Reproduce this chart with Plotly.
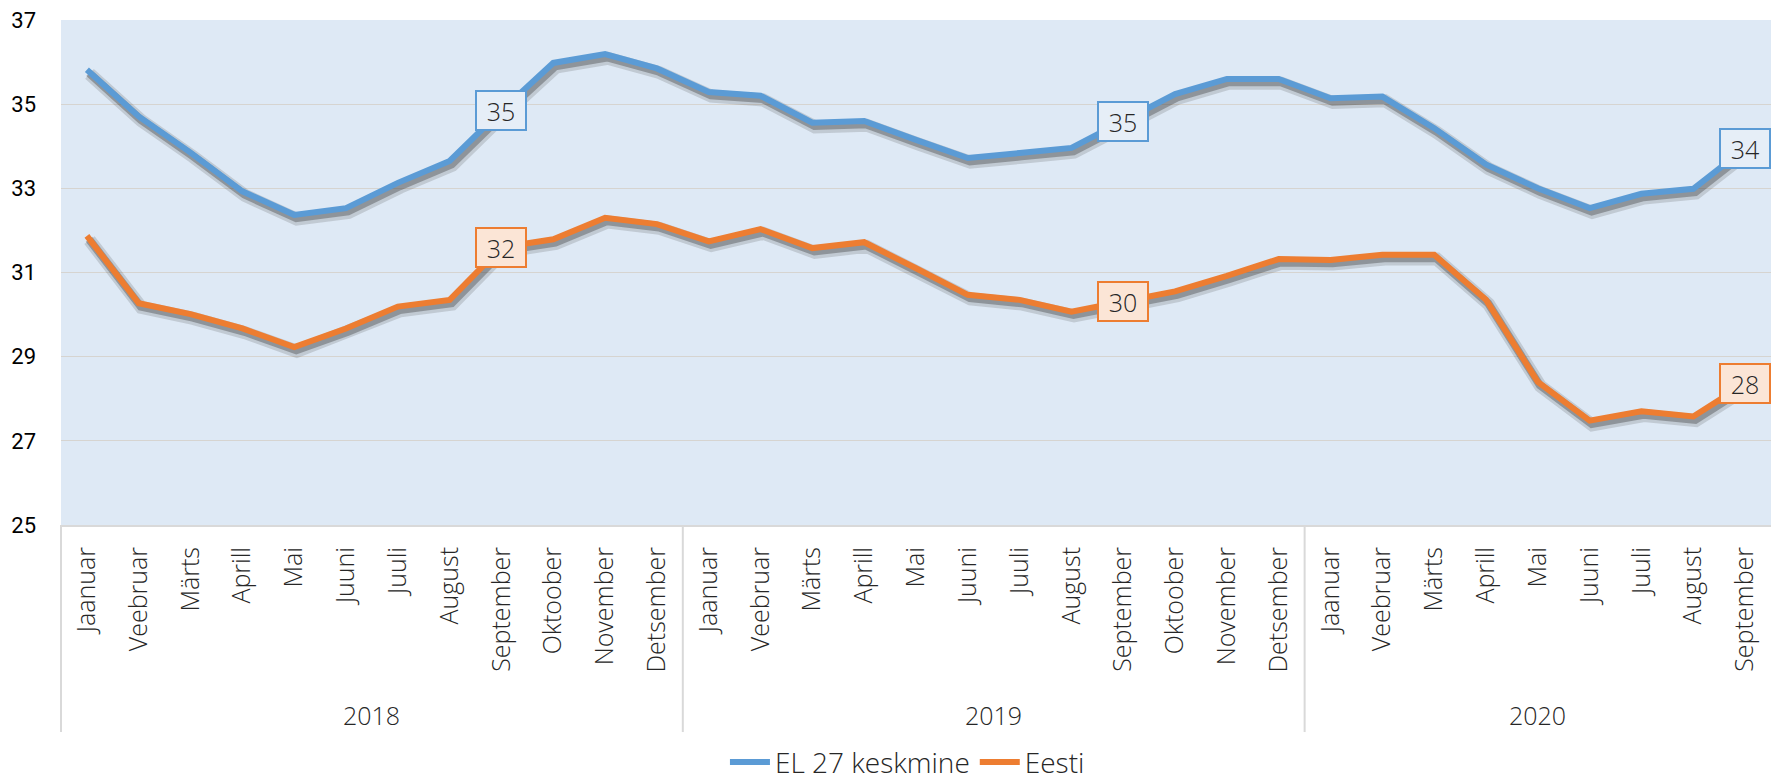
import plotly.graph_objects as go

months = ["Jaanuar", "Veebruar", "Märts", "Aprill", "Mai", "Juuni", "Juuli",
          "August", "September", "Oktoober", "November", "Detsember"]
years = ["2018", "2019", "2020"]
month_counts = [12, 12, 9]

categories = months + months + months[:9]

eu27 = [35.82, 34.71, 33.85, 32.93, 32.37, 32.53, 33.13, 33.65, 34.85, 35.98, 36.19, 35.85,
        35.29, 35.20, 34.56, 34.60, 34.15, 33.72, 33.84, 33.96, 34.60, 35.24, 35.60, 35.60,
        35.14, 35.18, 34.43, 33.57, 33.00, 32.53, 32.87, 32.99, 33.95]
eesti = [31.87, 30.27, 30.01, 29.67, 29.23, 29.67, 30.19, 30.35, 31.60, 31.79, 32.30, 32.15,
         31.74, 32.03, 31.58, 31.72, 31.10, 30.47, 30.35, 30.07, 30.31, 30.55, 30.92, 31.32,
         31.30, 31.42, 31.42, 30.35, 28.40, 27.48, 27.70, 27.58, 28.36]

label_idx = [8, 20, 32]

BLUE = "#5b9bd5"
ORANGE = "#ed7d31"
GRID = "#d6d4d0"
XMIN, XMAX = -0.5, 32.5
MONTH_FONT = "Open Sans, Lato, sans-serif"
NARROW_FONT = "Liberation Sans Narrow, Roboto, sans-serif"
TXT = "#262626"

x = list(range(len(categories)))

fig = go.Figure()

# soft drop shadows under the lines
for vals in (eu27, eesti):
    fig.add_trace(go.Scatter(
        x=[v + 0.05 for v in x], y=[v - 0.10 for v in vals], mode="lines",
        line=dict(color="rgba(60,60,60,0.18)", width=13), hoverinfo="skip",
        showlegend=False))
    fig.add_trace(go.Scatter(
        x=[v + 0.04 for v in x], y=[v - 0.08 for v in vals], mode="lines",
        line=dict(color="rgba(50,50,50,0.35)", width=8), hoverinfo="skip",
        showlegend=False))

fig.add_trace(go.Scatter(x=x, y=eu27, mode="lines", name="EL 27 keskmine",
                         line=dict(color=BLUE, width=6)))
fig.add_trace(go.Scatter(x=x, y=eesti, mode="lines", name="Eesti",
                         line=dict(color=ORANGE, width=6)))

label_font = dict(family=MONTH_FONT, size=25, color=TXT, weight=300)
annotations = []
for i in label_idx:
    annotations.append(dict(x=i, y=eu27[i], xref="x", yref="y", text=f"{eu27[i]:.0f}",
                            showarrow=False, font=label_font,
                            bgcolor="#e6eef7", bordercolor=BLUE, borderwidth=2,
                            width=48, height=37, borderpad=0))
    annotations.append(dict(x=i, y=eesti[i], xref="x", yref="y", text=f"{eesti[i]:.0f}",
                            showarrow=False, font=label_font,
                            bgcolor="#fbe5d6", bordercolor=ORANGE, borderwidth=2,
                            width=48, height=37, borderpad=0))

# year group labels and dividers
shapes = []
start = 0
for yr, cnt in zip(years, month_counts):
    center = start + (cnt - 1) / 2
    annotations.append(dict(x=center, y=-0.376, xref="x", yref="paper", text=yr,
                            showarrow=False, yanchor="middle",
                            font=dict(family=MONTH_FONT, size=25, color=TXT, weight=300)))
    xd = (start - 0.5 - XMIN) / (XMAX - XMIN)
    shapes.append(dict(type="line", xref="paper", yref="paper", x0=xd, x1=xd,
                       y0=0, y1=-0.41, line=dict(color="#d9d9d9", width=2)))
    start += cnt

fig.update_layout(
    width=1771, height=781,
    margin=dict(l=61, r=0, t=20, b=256),
    paper_bgcolor="white",
    plot_bgcolor="#dee9f5",
    annotations=annotations,
    shapes=shapes,
    legend=dict(orientation="h", xref="paper", x=0.495, xanchor="center",
                yref="container", y=0.024, yanchor="middle",
                font=dict(family=MONTH_FONT, size=28, color=TXT, weight=300),
                itemwidth=40),
    xaxis=dict(range=[XMIN, XMAX], tickmode="array", tickvals=x, ticktext=categories,
               tickangle=-90, showgrid=False, zeroline=False, showline=True,
               linecolor="#d9d9d9", linewidth=2, ticks="", automargin=False,
               tickfont=dict(family=MONTH_FONT, size=25, color=TXT, weight=300),
               ticklabelstandoff=10),
    yaxis=dict(range=[25, 37], dtick=2, tick0=25, showgrid=True, gridcolor=GRID,
               gridwidth=1, zeroline=False, showline=False, ticks="", automargin=False,
               tickfont=dict(family=NARROW_FONT, size=22, color="#000000"),
               ticklabelstandoff=24),
)

fig.write_html("out.html", config={"displayModeBar": False},
               post_script="document.body.style.margin='0';document.body.style.overflow='hidden';")
